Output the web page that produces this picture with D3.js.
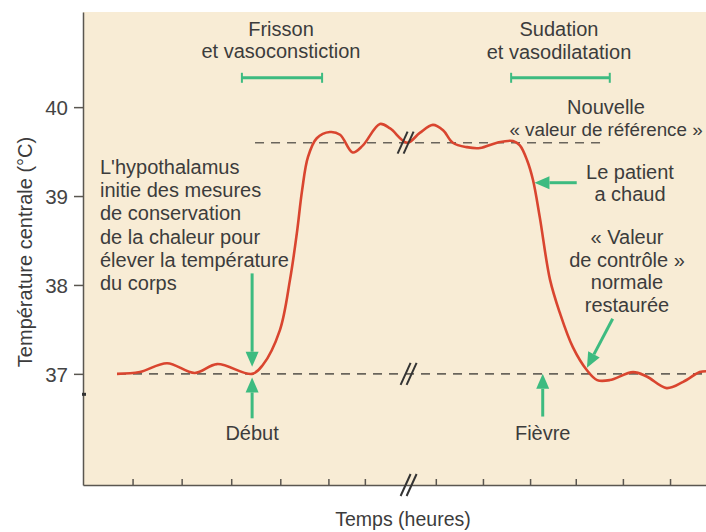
<!DOCTYPE html>
<html>
<head>
<meta charset="utf-8">
<script src="https://cdn.jsdelivr.net/npm/d3@7"></script>
<style>
  body { margin: 0; background: #fff; }
  svg { display: block; font-family: "Liberation Sans", Arial, sans-serif; }
  .axis path, .axis line { stroke: #5a5650; stroke-width: 1.5; }
  .axis text { fill: #444; font-size: 20.5px; }
  .note { fill: #3c3c3c; font-size: 20px; }
</style>
</head>
<body>
<svg id="chart"></svg>
<script>
// time in "hours" (arbitrary units of the drawing), temperature in °C
const curveHours = [0.70, 1.17, 1.73, 2.30, 2.76, 3.48, 3.70, 4.05, 4.26, 4.40, 4.51, 4.63, 4.81,
  5.08, 5.29, 5.55, 5.76, 6.11, 6.32, 6.67, 6.93, 7.20, 7.41, 7.61, 7.90, 8.17, 8.52, 8.85, 8.99,
  9.14, 9.26, 9.40, 9.61, 9.81, 10.08, 10.37, 10.58, 10.84, 11.32, 11.60, 12.01, 12.35, 12.69, 12.82];
const curveTemp = [37.0, 37.02, 37.12, 37.01, 37.11, 37.0, 37.10, 37.49, 38.06, 38.58, 39.07, 39.44, 39.65,
  39.72, 39.69, 39.49, 39.57, 39.81, 39.76, 39.60, 39.71, 39.80, 39.74, 39.60, 39.55, 39.54, 39.60, 39.62, 39.57,
  39.40, 39.18, 38.76, 38.06, 37.69, 37.30, 37.04, 36.93, 36.93, 37.02, 36.97, 36.84, 36.91, 37.02, 37.03];

const yTicks = [37, 38, 39, 40];
const xTicks = [1.02, 2.03, 3.05, 4.06, 5.05, 5.8, 7.26, 8.23, 9.2, 10.14, 11.11, 12.08];

const normalTemp = 37;
const feverTemp = 39.6;
const normalSpan = [0.70, 12.82];
const feverSpan = [3.54, 10.7];
const breakHour = 6.7;

const shiverSpan = [3.27, 4.92];
const sweatSpan = [8.81, 10.84];

const leftNote = ["L'hypothalamus", "initie des mesures", "de conservation",
  "de la chaleur pour", "élever la température", "du corps"];
const shiverLabel = ["Frisson", "et vasoconstiction"];
const sweatLabel = ["Sudation", "et vasodilatation"];
const setPointLabel = ["Nouvelle", "« valeur de référence »"];
const hotLabel = ["Le patient", "a chaud"];
const restoredLabel = ["« Valeur", "de contrôle »", "normale", "restaurée"];

const width = 706, height = 532;
const green = "#3dbb80", red = "#d9452f", dark = "#333";

const svg = d3.select("#chart").attr("width", width).attr("height", height);

const x = d3.scaleLinear().domain([0, 12.82]).range([83, 706]);
const y = d3.scaleLinear().domain([35.75, 41.07]).range([485, 12]);

svg.append("rect")
  .attr("x", x(0)).attr("y", y(41.07))
  .attr("width", x(12.82) - x(0)).attr("height", y(35.75) - y(41.07))
  .attr("fill", "#f8ecd5");

// axes
svg.append("g")
  .attr("class", "axis")
  .attr("transform", `translate(${x(0)},0)`)
  .call(d3.axisLeft(y).tickValues(yTicks).tickFormat(d3.format("d"))
    .tickSizeInner(9).tickSizeOuter(0).tickPadding(6))
  .call(g => g.selectAll("text").attr("dy", "0.36em"));

svg.append("g")
  .attr("class", "axis")
  .attr("transform", `translate(0,${y(35.75)})`)
  .call(d3.axisBottom(x).tickValues(xTicks).tickSizeInner(-6).tickSizeOuter(0).tickFormat(""));

// small mark on the y axis
svg.append("rect")
  .attr("x", x(0) - 1).attr("y", y(36.77) - 1.5)
  .attr("width", 4).attr("height", 3).attr("fill", dark);

// dashed reference lines
const dash = svg.append("g")
  .attr("stroke", "#6a655c").attr("stroke-width", 1.6).attr("stroke-dasharray", "9,7");
dash.append("line")
  .attr("x1", x(normalSpan[0])).attr("x2", x(normalSpan[1]))
  .attr("y1", y(normalTemp)).attr("y2", y(normalTemp));
dash.append("line")
  .attr("x1", x(feverSpan[0])).attr("x2", x(feverSpan[1]))
  .attr("y1", y(feverTemp)).attr("y2", y(feverTemp));

// temperature curve
const line = d3.line()
  .x((d, i) => x(curveHours[i]))
  .y(d => y(d))
  .curve(d3.curveCatmullRom.alpha(0.5));

svg.append("path")
  .datum(curveTemp)
  .attr("d", line)
  .attr("fill", "none")
  .attr("stroke", red)
  .attr("stroke-width", 2.6);

// axis breaks
function breakMark(cx, cy) {
  const g = svg.append("g").attr("stroke", dark).attr("stroke-width", 2);
  [-3, 3].forEach(dx => {
    g.append("line")
      .attr("x1", cx + dx - 5).attr("y1", cy + 11)
      .attr("x2", cx + dx + 5).attr("y2", cy - 11);
  });
}
breakMark(x(breakHour) - 3, y(feverTemp));
breakMark(x(breakHour), y(normalTemp));
breakMark(x(breakHour), y(35.75));

// green arrows
function arrow(x1, y1, x2, y2) {
  const ang = Math.atan2(y2 - y1, x2 - x1);
  const L = 15, W = 6.5;
  const bx = x2 - L * Math.cos(ang), by = y2 - L * Math.sin(ang);
  svg.append("line")
    .attr("x1", x1).attr("y1", y1).attr("x2", bx).attr("y2", by)
    .attr("stroke", green).attr("stroke-width", 3);
  svg.append("path")
    .attr("d", `M${x2},${y2}L${bx - W * Math.sin(ang)},${by + W * Math.cos(ang)}`
      + `L${bx + W * Math.sin(ang)},${by - W * Math.cos(ang)}Z`)
    .attr("fill", green);
}
arrow(x(3.48), y(38.13), x(3.48), y(37.08));
arrow(x(3.48), y(36.5), x(3.48), y(36.96));
arrow(x(9.46), y(36.52), x(9.46), y(37.0));
arrow(x(10.16), y(39.15), x(9.29), y(39.15));
arrow(x(10.9), y(37.62), x(10.37), y(37.07));

// green bars
function bar(span, t) {
  const g = svg.append("g").attr("stroke", green).attr("stroke-width", 3);
  g.append("line").attr("x1", x(span[0])).attr("x2", x(span[1])).attr("y1", y(t)).attr("y2", y(t));
  span.forEach(s => g.append("line").attr("x1", x(s)).attr("x2", x(s))
    .attr("y1", y(t) - 5).attr("y2", y(t) + 5).attr("stroke-width", 2));
}
bar(shiverSpan, 40.33);
bar(sweatSpan, 40.33);

// text
function textBlock(lines, px, py, step, anchor) {
  const t = svg.append("text").attr("class", "note").attr("text-anchor", anchor);
  lines.forEach((s, i) => t.append("tspan").attr("x", px).attr("y", py + i * step).text(s));
  return t;
}
textBlock(leftNote, 100, 174, 23.2, "start");
textBlock(shiverLabel, 281, 36, 22, "middle");
textBlock(sweatLabel, 559, 36, 22.5, "middle");
textBlock(setPointLabel, 606, 114, 21.5, "middle")
  .select("tspan:last-child").style("font-size", "18.8px");
textBlock(hotLabel, 630, 179, 21.5, "middle");
textBlock(restoredLabel, 627, 244, 22.7, "middle");
textBlock(["Début"], x(3.48), 440, 0, "middle");
textBlock(["Fièvre"], x(9.46), 440, 0, "middle");

svg.append("text")
  .attr("class", "note")
  .attr("text-anchor", "middle")
  .attr("transform", "translate(32,252) rotate(-90)")
  .text("Température centrale (°C)");

svg.append("text")
  .attr("class", "note")
  .attr("text-anchor", "middle")
  .style("font-size", "19.5px")
  .attr("x", 403).attr("y", 526)
  .text("Temps (heures)");
</script>
</body>
</html>
